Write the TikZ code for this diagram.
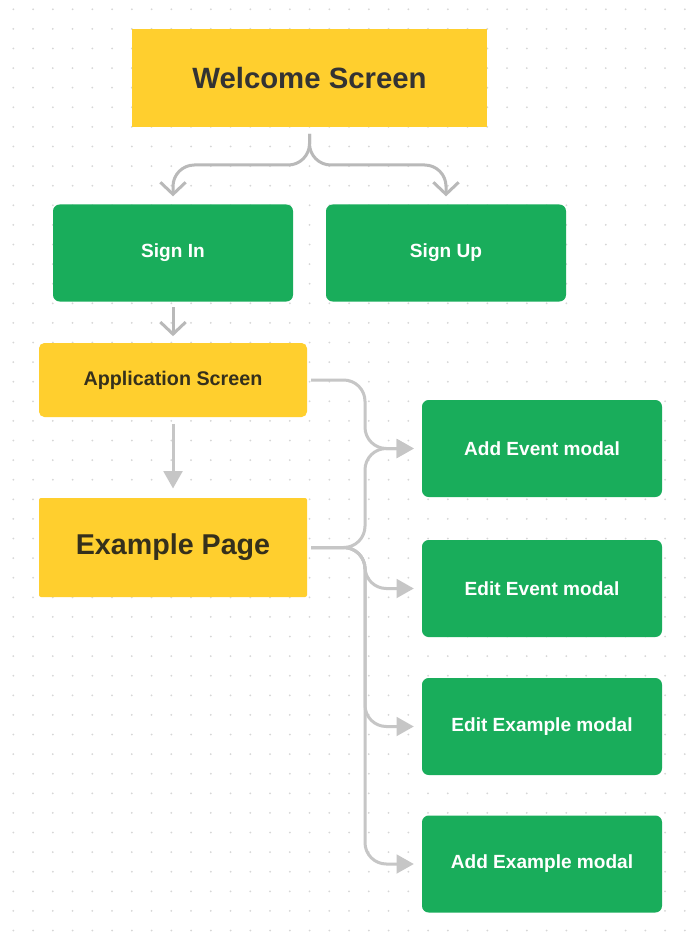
\documentclass[tikz,border=0pt]{standalone}
\usepackage{fontspec}
\setmainfont{Liberation Sans}
\usepackage{xcolor}
\usetikzlibrary{arrows.meta}
\definecolor{Mustard}{HTML}{FFCF2E}
\definecolor{Leaf}{HTML}{19AD5B}
\definecolor{Wire}{HTML}{C6C6C6}
\definecolor{Barb}{HTML}{B9B9B9}
\definecolor{Ink}{HTML}{35301C}
\definecolor{Speck}{HTML}{D6D6D6}

\begin{document}
\begin{tikzpicture}[x=0.75pt, y=-0.75pt, line width=2.25pt,
        every node/.append style={font=\bfseries, inner sep=0pt},
        rounded corners=16pt]
      \tikzstyle{pagebox} = [fill=Mustard, text=Ink, sharp corners]
      \tikzstyle{modalbox} = [fill=Leaf, text=white, rounded corners=5pt,
        minimum width=180pt, minimum height=72.75pt, font=\fontsize{14.3}{16}\selectfont\bfseries]
      \tikzstyle{fork} = [draw=Barb, -{Straight Barb[length=9pt, width=19pt]}]
      \tikzstyle{feed} = [draw=Wire, -{Triangle[length=13pt, width=14pt]}]
      \fill[white] (0,0) rectangle (694,934);
      \useasboundingbox (0,0) rectangle (694,934);
      \foreach \i in {0,...,34}
        \foreach \j in {0,...,47}
          \fill[Speck] (13.3+19.75*\i, 9.3+19.6*\j) circle (0.75pt);
      \node (welcome) [pagebox, minimum width=266.25pt, minimum height=73.5pt,
        font=\fontsize{22}{26}\selectfont\bfseries, text=black!80] at (309.5,78) {Welcome Screen};
      \node (signin) [modalbox] at (173,253) {Sign In};
      \node (signup) [modalbox] at (446,253) {Sign Up};
      \node (appscreen) [pagebox, rounded corners=4pt, minimum width=201pt, minimum height=55.5pt,
        font=\fontsize{14.8}{16}\selectfont\bfseries] at (173,380) {Application Screen};
      \node (examplepage) [pagebox, rounded corners=1.5pt, minimum width=201pt, minimum height=74.25pt,
        font=\fontsize{21.5}{25}\selectfont\bfseries] at (173,547.5) {Example Page};
      \node (addevent) [modalbox] at (542,448.5) {Add Event modal};
      \node (editevent) [modalbox] at (542,588.5) {Edit Event modal};
      \node (editexample) [modalbox] at (542,726.5) {Edit Example modal};
      \node (addexample) [modalbox] at (542,864) {Add Example modal};
      \coordinate (split) at (310,165);
      \coordinate (bus) at (365,0);
      \draw[fork, shorten <=4pt, shorten >=5pt] (welcome.south) -- (welcome.south |- split) -| (signin.north);
      \draw[fork, shorten <=4pt, shorten >=5pt] (welcome.south) -- (welcome.south |- split) -| (signup.north);
      \draw[fork, shorten <=3pt, shorten >=4pt] (signin.south) -- (appscreen.north);
      \draw[feed, shorten <=4pt, shorten >=6pt] (appscreen.south) -- (examplepage.north);
      \draw[feed, shorten <=2pt, shorten >=5pt] (appscreen.east) -- (appscreen.east -| bus) -- (bus |- addevent.west) -- (addevent.west);
      \draw[feed, shorten <=2pt, shorten >=5pt] (examplepage.east) -- (examplepage.east -| bus) -- (bus |- addevent.west) -- (addevent.west);
      \draw[feed, shorten <=2pt, shorten >=5pt] (examplepage.east) -- (examplepage.east -| bus) -- (bus |- editevent.west) -- (editevent.west);
      \draw[feed, shorten <=2pt, shorten >=5pt] (examplepage.east) -- (examplepage.east -| bus) -- (bus |- editexample.west) -- (editexample.west);
      \draw[feed, shorten <=2pt, shorten >=5pt] (examplepage.east) -- (examplepage.east -| bus) -- (bus |- addexample.west) -- (addexample.west);
    \end{tikzpicture}
\end{document}
